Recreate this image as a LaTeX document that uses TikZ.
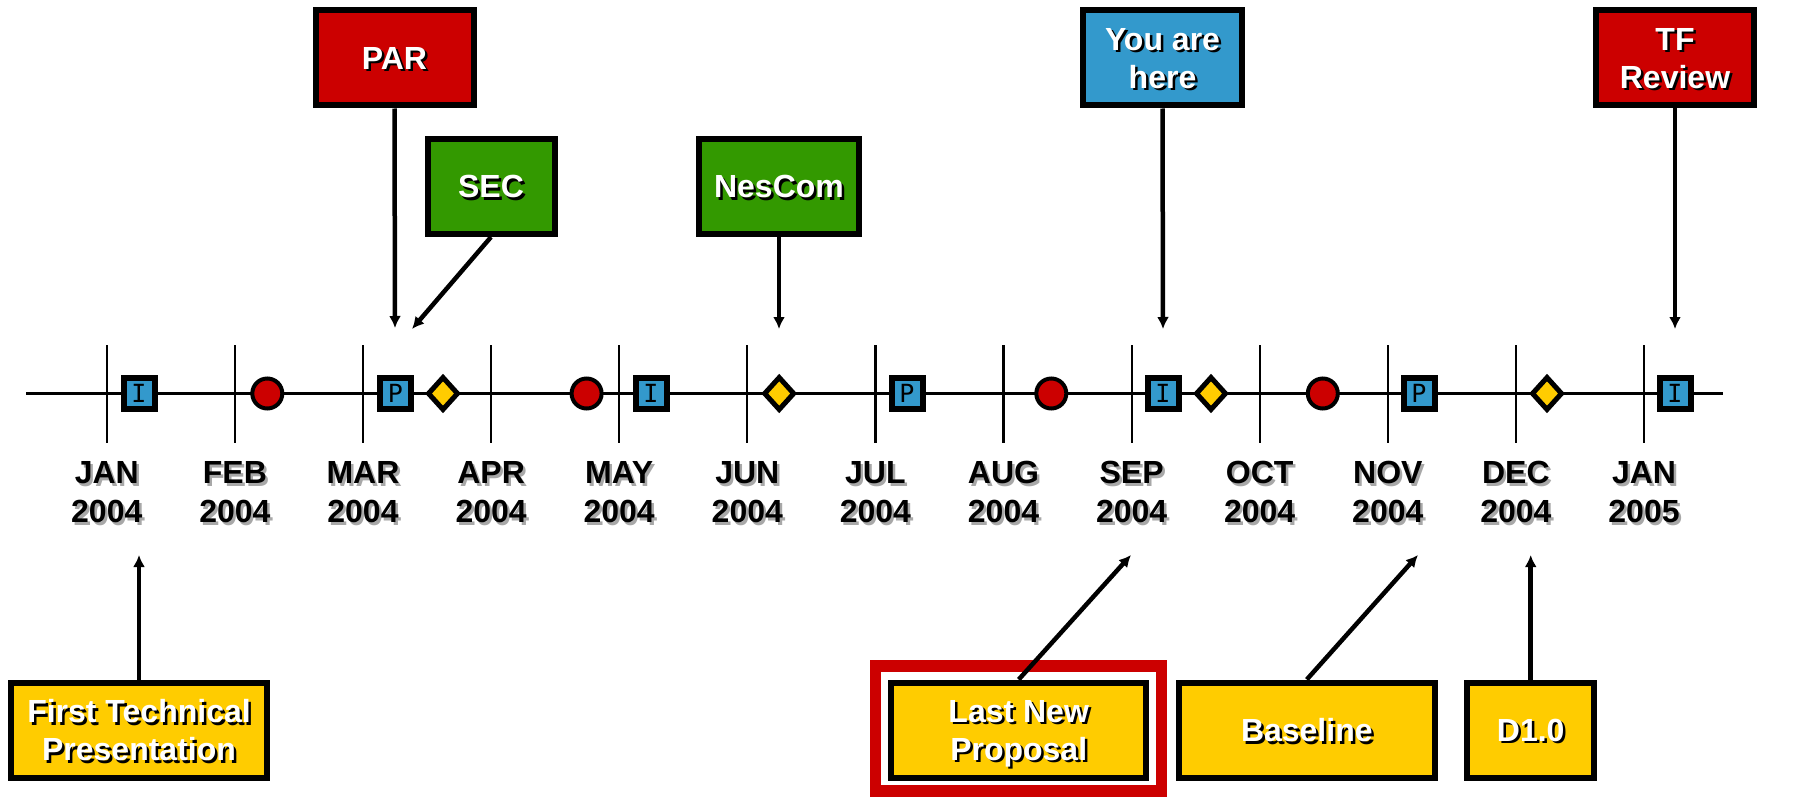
\documentclass[tikz,border=0pt]{standalone}
\usepackage{fontspec}
\setmainfont{Liberation Sans}
\newfontfamily\markfont{DejaVu Sans Mono}
\usetikzlibrary{positioning,arrows.meta,shapes.geometric}

\definecolor{msred}{HTML}{CC0000}
\definecolor{msgreen}{HTML}{339900}
\definecolor{msblue}{HTML}{3399CC}
\definecolor{msyellow}{HTML}{FFCC00}
\definecolor{msgray}{HTML}{A8A8A8}

% text with a small drop shadow
\newcommand{\shd}[1]{\makebox[0pt][l]{\hspace{2.5pt}\raisebox{-2.5pt}{\textcolor{\shdcol}{#1}}}#1}

\tikzset{
  event/.style={draw=black, line width=6pt, text=white, align=center, inner sep=0pt, text depth=0pt,
    minimum height=95pt, font=\fontsize{32}{38}\selectfont\bfseries\def\shdcol{black}},
  month/.style={align=center, inner sep=0pt, text depth=0pt,
    font=\fontsize{32}{39}\selectfont\bfseries\def\shdcol{msgray}},
  sqmark/.style={draw=black, fill=msblue, line width=6pt, minimum size=31pt, inner sep=0pt,
    font=\markfont\fontsize{25}{25}\selectfont},
  dotmark/.style={circle, draw=black, fill=msred, line width=4pt, minimum size=30pt, inner sep=0pt},
  diamark/.style={diamond, draw=black, fill=msyellow, line width=5pt, minimum width=31pt,
    minimum height=34pt, inner sep=0pt},
  pointer/.style={->, line width=4.5pt},
  axisline/.style={line width=2.2pt}
}

\begin{document}
\begin{tikzpicture}[x=1pt, y=-1pt, >={Latex[length=12pt,width=12pt]}]
    \useasboundingbox (0,0) rectangle (1793,797);

    % time axis and month ticks
    \coordinate (axisL) at (26,393.5);
    \coordinate (axisR) at (1723,393.5);
    \draw[axisline] (axisL) -- (axisR);
    \foreach \x in {106.8,234.9,363.0,491.1,619.2,747.3,875.4,1003.5,1131.6,1259.7,1387.8,1515.9,1644.0}
        \draw[axisline] (\x,345) -- (\x,443);

    \node[month] (jan04) at (106.8, 492)  {\shd{JAN}\\\shd{2004}};
    \node[month] (feb04) at (234.9, 492)  {\shd{FEB}\\\shd{2004}};
    \node[month] (mar04) at (363.0, 492)  {\shd{MAR}\\\shd{2004}};
    \node[month] (apr04) at (491.1, 492)  {\shd{APR}\\\shd{2004}};
    \node[month] (may04) at (619.2, 492)  {\shd{MAY}\\\shd{2004}};
    \node[month] (jun04) at (747.3, 492)  {\shd{JUN}\\\shd{2004}};
    \node[month] (jul04) at (875.4, 492)  {\shd{JUL}\\\shd{2004}};
    \node[month] (aug04) at (1003.5, 492) {\shd{AUG}\\\shd{2004}};
    \node[month] (sep04) at (1131.6, 492) {\shd{SEP}\\\shd{2004}};
    \node[month] (oct04) at (1259.7, 492) {\shd{OCT}\\\shd{2004}};
    \node[month] (nov04) at (1387.8, 492) {\shd{NOV}\\\shd{2004}};
    \node[month] (dec04) at (1515.9, 492) {\shd{DEC}\\\shd{2004}};
    \node[month] (jan05) at (1644.0, 492) {\shd{JAN}\\\shd{2005}};

    % markers on the axis
    \node[sqmark]  (i1) at (139, 393.5)    {I};
    \node[dotmark] (c1) at (267.3, 393.5)  {};
    \node[sqmark]  (p1) at (395.5, 393.5)  {P};
    \node[diamark] (d1) at (443, 393.5)    {};
    \node[dotmark] (c2) at (586.6, 393.5)  {};
    \node[sqmark]  (i2) at (651, 393.5)    {I};
    \node[diamark] (d2) at (779.2, 393.5)  {};
    \node[sqmark]  (p2) at (907, 393.5)    {P};
    \node[dotmark] (c3) at (1051.3, 393.5) {};
    \node[sqmark]  (i3) at (1163, 393.5)   {I};
    \node[diamark] (d3) at (1211, 393.5)   {};
    \node[dotmark] (c4) at (1322.8, 393.5) {};
    \node[sqmark]  (p3) at (1419, 393.5)   {P};
    \node[diamark] (d4) at (1547, 393.5)   {};
    \node[sqmark]  (i4) at (1675, 393.5)   {I};

    % events above the axis
    \node[event, fill=msred,   minimum width=158pt] (par)    at (394.5, 58)  {\shd{PAR}};
    \node[event, fill=msgreen, minimum width=127pt] (sec)    at (491, 186.5) {\shd{SEC}};
    \node[event, fill=msgreen, minimum width=160pt] (nescom) at (779, 186.5) {\shd{NesCom}};
    \node[event, fill=msblue,  minimum width=159pt] (here)   at (1162.5, 58) {\shd{You are}\\\shd{here}};
    \node[event, fill=msred,   minimum width=158pt] (tfrev)  at (1675, 58)   {\shd{TF}\\\shd{Review}};

    % events below the axis
    \node[draw=msred, line width=11.5pt, minimum width=286pt, minimum height=125pt] (hilite) at (1018.7, 728.4) {};
    \node[event, fill=msyellow, minimum width=255.5pt] (firsttech) at (139, 730)    {\shd{First Technical}\\\shd{Presentation}};
    \node[event, fill=msyellow, minimum width=255.5pt] (lastnew)   at (1018.7, 730) {\shd{Last New}\\\shd{Proposal}};
    \node[event, fill=msyellow, minimum width=255.5pt] (baseline)  at (1306.8, 730) {\shd{Baseline}};
    \node[event, fill=msyellow, minimum width=127.5pt] (dten)      at (1530.7, 730) {\shd{D1.0}};

    \coordinate (t-par)    at (395, 328);
    \coordinate (t-sec)    at (412, 329);
    \coordinate (t-nescom) at (779, 329);
    \coordinate (t-here)   at (1163, 329);
    \coordinate (t-tfrev)  at (1675, 329);
    \coordinate (t-first)  at (139, 555);
    \coordinate (t-last)   at (1131, 555);
    \coordinate (t-base)   at (1418, 555);
    \coordinate (t-dten)   at (1530.7, 555);

    \path
    (par.south)       edge[pointer] (t-par)
    (sec.south)       edge[pointer] (t-sec)
    (nescom.south)    edge[pointer] (t-nescom)
    (here.south)      edge[pointer] (t-here)
    (tfrev.south)     edge[pointer] (t-tfrev)
    (firsttech.north) edge[pointer] (t-first)
    (lastnew.north)   edge[pointer] (t-last)
    (baseline.north)  edge[pointer] (t-base)
    (dten.north)      edge[pointer] (t-dten);
\end{tikzpicture}
\end{document}
